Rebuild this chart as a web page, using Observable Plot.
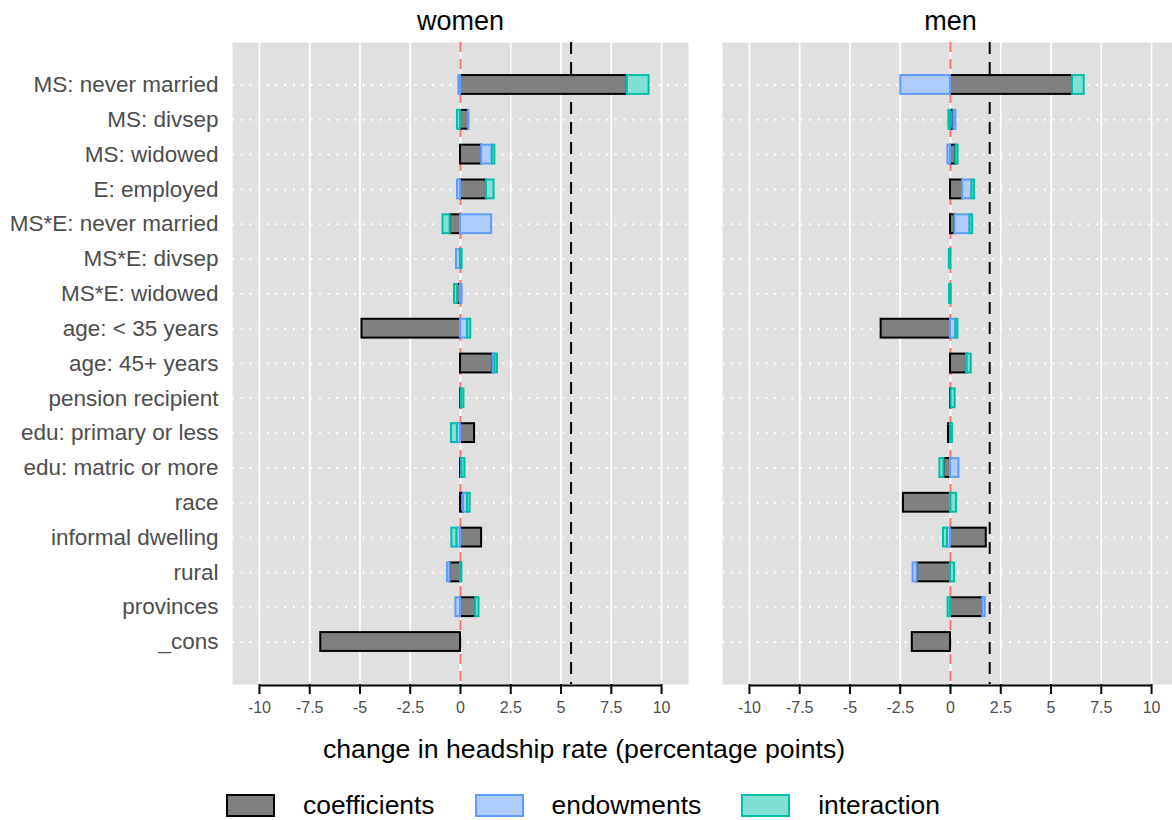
<!DOCTYPE html>
<html>
<head>
<meta charset="utf-8">
<script src="https://cdn.jsdelivr.net/npm/d3@7"></script>
<script src="https://cdn.jsdelivr.net/npm/@observablehq/plot@0.6"></script>
<style>
  html, body { margin: 0; padding: 0; background: white; }
  body { width: 1172px; height: 820px; overflow: hidden; position: relative; font-family: "Liberation Sans", Arial, Helvetica, sans-serif; }
  #chart { position: absolute; left: 0; top: 0; }
  #chart svg { max-width: none !important; }
  #xlabel { position: absolute; left: 0; width: 1168px; top: 734px; text-align: center; font-size: 26.7px; color: #000; }
  #legend { position: absolute; left: 0; width: 1166px; top: 790px; display: flex; justify-content: center; align-items: center; font-size: 26.4px; color: #000; }
  .item { display: flex; align-items: center; margin: 0 20px; }
  .key { box-sizing: border-box; width: 49px; height: 23px; border: 2px solid; margin-right: 28px; }
</style>
</head>
<body>
<div id="chart"></div>
<div id="xlabel">change in headship rate (percentage points)</div>
<div id="legend"></div>
<script>
// ---- data ----
const categories = [
  "MS: never married", "MS: divsep", "MS: widowed", "E: employed",
  "MS*E: never married", "MS*E: divsep", "MS*E: widowed",
  "age: < 35 years", "age: 45+ years", "pension recipient",
  "edu: primary or less", "edu: matric or more", "race",
  "informal dwelling", "rural", "provinces", "_cons"
];
const sexes = ["women", "men"];
const components = ["coefficients", "endowments", "interaction"];

const womenCoefficients = [8.3, 0.4, 1.05, 1.29, -0.52, 0.0, -0.15, -4.9, 1.62, 0.03, 0.7, 0.05, 0.15, 1.05, -0.52, 0.75, -6.95];
const womenEndowments   = [-0.08, 0.02, 0.53, -0.15, 1.55, -0.2, 0.08, 0.36, 0.1, 0.02, -0.15, 0.02, 0.2, -0.18, -0.13, -0.23, 0];
const womenInteraction  = [1.08, -0.15, 0.13, 0.38, -0.35, 0.08, -0.15, 0.15, 0.12, 0.12, -0.3, 0.15, 0.13, -0.25, 0.07, 0.17, 0];

const menCoefficients = [6.07, 0.17, 0.27, 0.6, 0.22, 0, 0, -3.45, 0.8, 0.03, -0.1, -0.33, -2.34, 1.78, -1.66, 1.6, -1.9];
const menEndowments   = [-2.47, 0.1, -0.13, 0.47, 0.75, 0.03, 0.05, 0.27, 0.03, 0, 0, 0.42, 0.02, -0.15, -0.2, 0.13, 0];
const menInteraction  = [0.58, -0.08, 0.11, 0.13, 0.13, -0.06, -0.05, 0.1, 0.2, 0.2, 0.1, -0.2, 0.28, -0.2, 0.2, -0.12, 0];

const totalChange = [5.5, 1.95]; // dashed black reference lines (women, men)
const xTicks = [-10, -7.5, -5, -2.5, 0, 2.5, 5, 7.5, 10];

const fills   = {coefficients: "#808080", endowments: "#b0ccff", interaction: "#80e0d4"};
const strokes = {coefficients: "#000000", endowments: "#619cff", interaction: "#00bfa8"};

// ---- build table ----
const series = {
  women: [womenCoefficients, womenEndowments, womenInteraction],
  men: [menCoefficients, menEndowments, menInteraction]
};
const data = [];
for (const sex of sexes) {
  categories.forEach((cat, i) => {
    components.forEach((comp, j) => {
      data.push({sex, category: cat, component: comp, value: series[sex][j][i]});
    });
  });
}
const totals = sexes.map((sex, i) => ({sex, value: totalChange[i]}));

const yPadOuter = 0.72;
const height = 720, marginTop = 42, marginBottom = 36;
const yStep = (height - marginTop - marginBottom) / (categories.length + 2 * yPadOuter);
const axisOffset = yPadOuter * yStep + yStep / 2 + 1;

const chart = Plot.plot({
  width: 1178,
  height,
  marginLeft: 232,
  marginRight: 0,
  marginTop,
  marginBottom,
  style: {fontFamily: "'Liberation Sans', Arial, Helvetica, sans-serif", background: "white", overflow: "visible", maxWidth: "none"},
  fx: {domain: sexes, paddingInner: 34 / 490, paddingOuter: 0, round: false, axis: null},
  x: {domain: [-11.34, 11.34], axis: null},
  y: {domain: categories, paddingInner: 0, paddingOuter: yPadOuter, round: false, axis: null},
  marks: [
    Plot.frame({fill: "#e0e0e0", stroke: "none"}),
    Plot.gridX({ticks: xTicks, stroke: "white", strokeOpacity: 1, strokeWidth: 1.6}),
    Plot.gridY({stroke: "white", strokeOpacity: 1, strokeWidth: 2, strokeDasharray: "2,6.7"}),
    Plot.ruleX([0], {stroke: "#F8766D", strokeWidth: 2, strokeDasharray: "10,7"}),
    Plot.ruleX(totals, {x: "value", fx: "sex", stroke: "black", strokeWidth: 2, strokeDasharray: "12,8"}),
    Plot.barX(data, Plot.stackX({
      x: "value", y: "category", fx: "sex",
      fill: d => fills[d.component],
      stroke: d => strokes[d.component],
      strokeWidth: 2,
      insetTop: 8, insetBottom: 8
    })),
    Plot.ruleY([categories[categories.length - 1]], {y: d => d, x1: -10, x2: 10, dy: axisOffset, stroke: "black", strokeWidth: 2}),
    Plot.axisX({ticks: xTicks, tickFormat: d => String(d), tickSize: 10, tickPadding: 7, stroke: "black", strokeWidth: 2, fill: "#4d4d4d", fontSize: 16, label: null}),
    Plot.axisY({tickSize: 0, tickPadding: 14, fill: "#4d4d4d", fontSize: 22.5, label: null}),
    Plot.axisFx({anchor: "top", tickSize: 0, tickPadding: 13, fill: "black", fontSize: 27, label: null})
  ]
});
document.getElementById("chart").appendChild(chart);

// ---- legend ----
const legend = document.getElementById("legend");
for (const comp of components) {
  const item = document.createElement("div");
  item.className = "item";
  const key = document.createElement("span");
  key.className = "key";
  key.style.background = fills[comp];
  key.style.borderColor = strokes[comp];
  const lab = document.createElement("span");
  lab.textContent = comp;
  item.appendChild(key);
  item.appendChild(lab);
  legend.appendChild(item);
}
</script>
</body>
</html>
